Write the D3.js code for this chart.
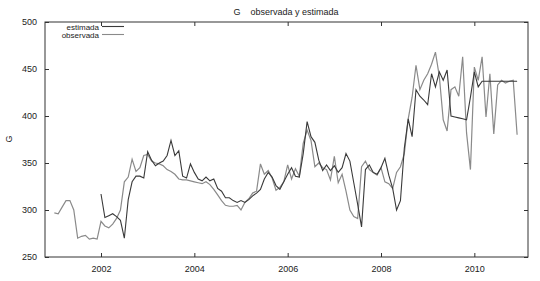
<!DOCTYPE html>
<html>
<head>
<meta charset="utf-8">
<script src="https://cdn.jsdelivr.net/npm/d3@7"></script>
<style>
  body { margin: 0; background: #fff; }
  svg { display: block; }
  text { font-family: "Liberation Sans", Arial, sans-serif; fill: #222; }
</style>
</head>
<body>
<div id="chart"></div>
<script>
// chart size
var w = 540;
var h = 281;
var margin = {top: 22, right: 12, bottom: 24, left: 45};

// observed series, monthly from 2001-01 to 2010-12
var obsStart = 2001;
var observada = [
  297, 296, 303, 310, 310, 300, 270, 272, 273, 269, 270, 269,
  288, 283, 281, 285, 291, 300, 330, 335, 354, 341, 345, 358,
  359, 352, 350, 349, 347, 343, 341, 338, 333, 332, 332, 331,
  330, 329, 328, 330, 327, 322, 316, 310, 305, 304, 304, 305,
  300, 308, 312, 318, 320, 349, 338, 342, 334, 321, 324, 330,
  348, 333, 344, 336, 371, 385, 374, 346, 350, 345, 343, 332,
  357, 329, 338, 320, 300, 293, 291, 346, 352, 343, 340, 337,
  345, 330, 328, 323, 340, 346, 360, 397, 420, 454, 428, 438,
  445, 455, 468, 442, 396, 384, 428, 431, 421, 463, 382, 343,
  452, 438, 463, 399, 445, 381, 433, 438, 435, 437, 438, 380
];

// estimated series, monthly from 2002-01 to 2010-12
var estStart = 2002;
var estimada = [
  317, 292, 294, 296, 293, 289, 270, 311, 330, 336, 336, 334,
  362, 353, 347, 350, 352, 358, 374, 358, 363, 336, 334, 349,
  340, 333, 331, 335, 331, 333, 323, 320, 313, 313, 310, 308,
  310, 308, 311, 315, 318, 322, 333, 340, 335, 326, 322, 330,
  338, 345, 336, 335, 360, 394, 378, 372, 353, 342, 348, 342,
  347, 340, 345, 360, 352, 329, 306, 282, 343, 348, 340, 338,
  345, 355, 337, 323, 300, 310, 366, 397, 378, 428, 421, 417,
  412, 445, 431, 447, 438, 449, 400, 399, 398, 397, 396, 420,
  447, 431, 437, 437, 437, 437, 437, 437, 437, 437, 437, 437
];

var yTicks = [250, 300, 350, 400, 450, 500];
var xTicks = [2002, 2004, 2006, 2008, 2010];

var toPoints = function(arr, start) {
  return arr.map(function(v, i) { return {t: start + i / 12, v: v}; });
};

var svg = d3.select("#chart").append("svg")
  .attr("width", w)
  .attr("height", h);

var xScale = d3.scaleLinear()
  .domain([2000.8, 2011.15])
  .range([margin.left, w - margin.right]);

var yScale = d3.scaleLinear()
  .domain([250, 500])
  .range([h - margin.bottom, margin.top]);

var x0 = margin.left, x1 = w - margin.right;
var y0 = margin.top, y1 = h - margin.bottom;

// axes with inward ticks, mirrored on top and right like gnuplot
var axisL = svg.append("g").attr("transform", "translate(" + x0 + ",0)")
  .call(d3.axisLeft(yScale).tickValues(yTicks).tickSizeInner(-4).tickSizeOuter(0).tickPadding(8));
var axisR = svg.append("g").attr("transform", "translate(" + x1 + ",0)")
  .call(d3.axisRight(yScale).tickValues(yTicks).tickSizeInner(-4).tickSizeOuter(0).tickFormat(""));
var axisB = svg.append("g").attr("transform", "translate(0," + y1 + ")")
  .call(d3.axisBottom(xScale).tickValues(xTicks).tickSizeInner(-4).tickSizeOuter(0).tickPadding(9).tickFormat(d3.format("d")));
var axisT = svg.append("g").attr("transform", "translate(0," + y0 + ")")
  .call(d3.axisTop(xScale).tickValues(xTicks).tickSizeInner(-4).tickSizeOuter(0).tickFormat(""));

[axisL, axisR, axisB, axisT].forEach(function(g) {
  g.select(".domain").remove();
  g.selectAll(".tick line").attr("stroke", "#333");
  g.selectAll("text").attr("font-size", 9).attr("fill", "#222")
    .style("font-family", "'Liberation Sans', Arial, sans-serif");
});

// border
svg.append("rect")
  .attr("x", x0).attr("y", y0)
  .attr("width", x1 - x0).attr("height", y1 - y0)
  .attr("fill", "none").attr("stroke", "#333").attr("stroke-width", 1);

var line = d3.line()
  .x(function(d) { return xScale(d.t); })
  .y(function(d) { return yScale(d.v); });

svg.append("path")
  .datum(toPoints(observada, obsStart))
  .attr("d", line)
  .attr("fill", "none")
  .attr("stroke", "#8a8a8a")
  .attr("stroke-width", 1.2);

svg.append("path")
  .datum(toPoints(estimada, estStart))
  .attr("d", line)
  .attr("fill", "none")
  .attr("stroke", "#3a3a3a")
  .attr("stroke-width", 1.1);

// title
svg.append("text")
  .attr("x", 286).attr("y", 15)
  .attr("text-anchor", "middle")
  .attr("font-size", 9)
  .style("white-space", "pre")
  .text("G    observada y estimada");

// y label
svg.append("text")
  .attr("transform", "translate(12,139) rotate(-90)")
  .attr("text-anchor", "middle")
  .attr("font-size", 9)
  .text("G");

// legend
var legend = [
  {name: "estimada", color: "#3a3a3a"},
  {name: "observada", color: "#8a8a8a"}
];
legend.forEach(function(d, i) {
  var ly = 26.5 + i * 8;
  svg.append("text")
    .attr("x", 99).attr("y", ly + 3)
    .attr("text-anchor", "end")
    .attr("font-size", 8)
    .text(d.name);
  svg.append("line")
    .attr("x1", 102).attr("x2", 124)
    .attr("y1", ly).attr("y2", ly)
    .attr("stroke", d.color).attr("stroke-width", 1.1);
});
</script>
</body>
</html>
